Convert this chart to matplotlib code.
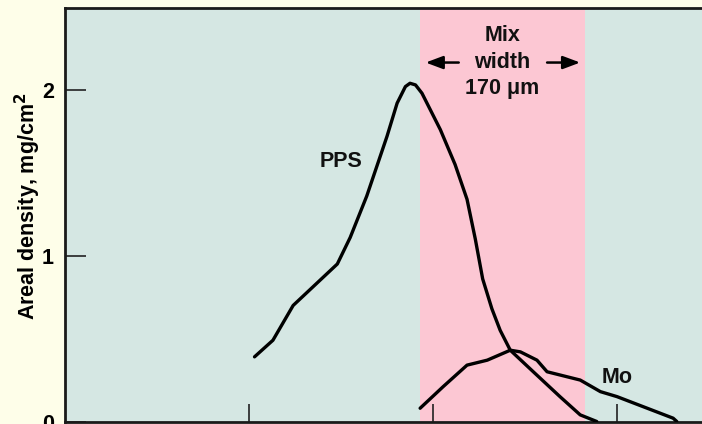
import matplotlib
matplotlib.use("Agg")
import matplotlib.pyplot as plt

# Data (x in µm, y in mg/cm^2)
pps_x = [206, 226, 248, 296, 310, 328, 350, 361, 370, 375, 381, 388, 408, 424, 437, 446, 454, 464, 473, 484, 509, 538, 560, 578]
pps_y = [0.39, 0.49, 0.70, 0.95, 1.11, 1.36, 1.72, 1.92, 2.02, 2.04, 2.03, 1.98, 1.76, 1.55, 1.34, 1.10, 0.86, 0.68, 0.55, 0.43, 0.30, 0.15, 0.04, 0.0]

mo_x = [386, 411, 437, 459, 484, 495, 513, 524, 560, 582, 600, 661, 665]
mo_y = [0.08, 0.21, 0.34, 0.37, 0.43, 0.42, 0.37, 0.30, 0.25, 0.18, 0.15, 0.02, 0.0]

mix_start, mix_end = 386, 565
x_ticks = [200, 400, 600]
y_ticks = [0, 1, 2]
y_tick_labels = ["0", "1", "2"]

FONT = "Liberation Sans"
W, H = 702, 424
fig = plt.figure(figsize=(W / 100, H / 100), dpi=100)
fig.patch.set_facecolor("#FEFEE9")

left, right, top, bottom = 65, 720, 8, 421.5
ax = fig.add_axes([left / W, (H - bottom) / H, (right - left) / W, (bottom - top) / H])
ax.set_facecolor("#D5E7E3")

ax.set_xlim(0, (right - left) * 200 / 184)
ax.set_ylim(0, (422 - top) / 166)

ax.axvspan(mix_start, mix_end, color="#FCC7D3", zorder=0, lw=0)

ax.plot(pps_x, pps_y, color="black", lw=2.4, solid_joinstyle="round", solid_capstyle="round", zorder=3)
ax.plot(mo_x, mo_y, color="black", lw=2.4, solid_joinstyle="round", solid_capstyle="round", zorder=3)

ax.set_xticks(x_ticks)
ax.set_xticklabels([])
ax.set_yticks(y_ticks)
ax.set_yticklabels(y_tick_labels, fontfamily=FONT, fontweight="bold", fontsize=15.5)
ax.tick_params(axis="y", direction="in", length=15, width=1.2, pad=8, colors="#222222", labelcolor="black")
ax.tick_params(axis="x", direction="in", length=13, width=1.2, colors="#222222")

for s in ax.spines.values():
    s.set_linewidth(2)
    s.set_color("#1a1a1a")

ax.set_ylabel("Areal density, mg/cm$^{\\mathbf{2}}$", fontfamily=FONT, fontweight="bold", fontsize=15.5, labelpad=-0.5)
ax.yaxis.label.set_y(0.52)

txt_kw = dict(fontfamily=FONT, fontweight="bold", fontsize=15.5, ha="center", va="center", color="#111111")
ax.text(300, 1.57, "PPS", **txt_kw)
ax.text(600, 0.265, "Mo", **txt_kw)
cx = (mix_start + mix_end) / 2
ax.text(cx, 2.33, "Mix", **txt_kw)
ax.text(cx, 2.165, "width", **txt_kw)
ax.text(cx, 2.01, "170 \u03bcm", **txt_kw)

arrow_kw = dict(arrowstyle="-|>,head_length=0.8,head_width=0.3", color="black", lw=1.8, mutation_scale=13)
ax.annotate("", xy=(mix_start + 3, 2.165), xytext=(mix_start + 45, 2.165), arrowprops=arrow_kw)
ax.annotate("", xy=(mix_end - 2, 2.165), xytext=(mix_end - 44, 2.165), arrowprops=arrow_kw)

fig.savefig("out.png", dpi=100, facecolor=fig.get_facecolor())
